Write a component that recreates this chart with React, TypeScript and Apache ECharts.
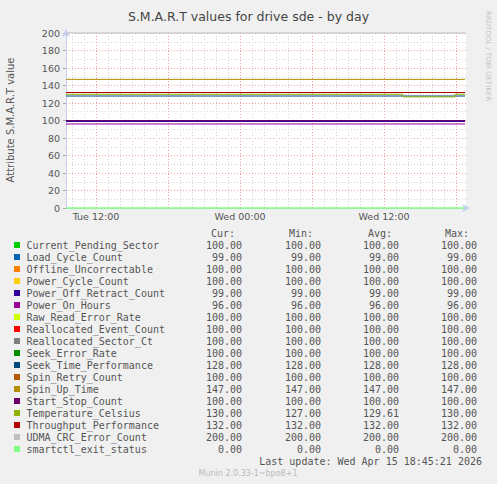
import React, { useEffect, useRef } from "react";
import * as echarts from "echarts";

const TITLE = "S.M.A.R.T values for drive sde - by day";
const Y_AXIS_NAME = "Attribute S.M.A.R.T value";
const WATERMARK = "RRDTOOL / TOBI OETIKER";
const LAST_UPDATE = "Last update: Wed Apr 15 18:45:21 2026";
const VERSION = "Munin 2.0.33-1~bpo8+1";
const COLUMN_HEADERS = ["Cur:", "Min:", "Avg:", "Max:"];

const seriesNames = [
  "Current_Pending_Sector",
  "Load_Cycle_Count",
  "Offline_Uncorrectable",
  "Power_Cycle_Count",
  "Power_Off_Retract_Count",
  "Power_On_Hours",
  "Raw_Read_Error_Rate",
  "Reallocated_Event_Count",
  "Reallocated_Sector_Ct",
  "Seek_Error_Rate",
  "Seek_Time_Performance",
  "Spin_Retry_Count",
  "Spin_Up_Time",
  "Start_Stop_Count",
  "Temperature_Celsius",
  "Throughput_Performance",
  "UDMA_CRC_Error_Count",
  "smartctl_exit_status",
];
const seriesColors = [
  "#00cc00", "#0066b3", "#ff8000", "#ffcc00", "#330099", "#990099",
  "#ccff00", "#ff0000", "#808080", "#008f00", "#00487d", "#b35a00",
  "#b38f00", "#6b006b", "#8fb300", "#b30000", "#bebebe", "#80ff80",
];
const curValues = [100, 99, 100, 100, 99, 96, 100, 100, 100, 100, 128, 100, 147, 100, 130, 132, 200, 0];
const minValues = [100, 99, 100, 100, 99, 96, 100, 100, 100, 100, 128, 100, 147, 100, 127, 132, 200, 0];
const avgValues = [100, 99, 100, 100, 99, 96, 100, 100, 100, 100, 128, 100, 147, 100, 129.61, 132, 200, 0];
const maxValues = [100, 99, 100, 100, 99, 96, 100, 100, 100, 100, 128, 100, 147, 100, 130, 132, 200, 0];

// flat level of each series over the shown period (hours since Tue 00:00)
const levelValues = [100, 99, 100, 100, 99, 96, 100, 100, 100, 100, 128, 100, 147, 100, 130, 132, 200, 0];
const DATA_START = 9.5;
const DATA_END = 42.75;
// Temperature_Celsius is the only series that changes
const TEMP_INDEX = 14;
const tempTimes = [9.5, 37.58, 41.92, 42.75];
const tempLevels = [130, 127, 130, 130];

const X_MIN = 9.5;
const X_MAX = 42.8333;
const hourTicks = [10, 11, 12, 13, 14, 15, 16, 17, 18, 19, 20, 21, 22, 23, 24, 25, 26, 27, 28, 29, 30, 31, 32, 33, 34, 35, 36, 37, 38, 39, 40, 41, 42];
const sixHourTicks = [12, 18, 24, 30, 36, 42];
const labelHours = [12, 24, 36];
const labelTexts = ["Tue 12:00", "Wed 00:00", "Wed 12:00"];

const SANS = "DejaVu Sans";
const MONO = "DejaVu Sans Mono";

export default function App() {
  const ref = useRef<HTMLDivElement>(null);
  useEffect(() => {
    if (!ref.current) return;
    const chart = echarts.init(ref.current, undefined, { renderer: "svg" });

    const series = seriesNames.map((name, i) => {
      const data =
        i === TEMP_INDEX
          ? tempTimes.map((t, k) => [t, tempLevels[k]])
          : [
              [DATA_START, levelValues[i]],
              [DATA_END, levelValues[i]],
            ];
      return {
        name,
        type: "line",
        step: "end",
        symbol: "none",
        clip: false,
        xAxisIndex: 0,
        yAxisIndex: 0,
        lineStyle: { width: i === seriesNames.length - 1 ? 1.5 : 1, color: seriesColors[i] },
        itemStyle: { color: seriesColors[i] },
        data,
      };
    });

    const graphics: any[] = [];
    const rowY0 = 245.5;
    const rowStep = 12;
    const colRight = [242, 321, 399, 477];
    const headRight = [235, 313, 392, 469];
    COLUMN_HEADERS.forEach((h, k) => {
      graphics.push({
        type: "text",
        style: { text: h, x: headRight[k], y: 233.5, align: "right", verticalAlign: "middle", fontFamily: MONO, fontSize: 10, fill: "#555" },
      });
    });
    seriesNames.forEach((name, i) => {
      const y = rowY0 + i * rowStep;
      graphics.push({ type: "rect", shape: { x: 14, y: y - 3.5, width: 6, height: 6 }, style: { fill: seriesColors[i] } });
      graphics.push({
        type: "text",
        style: { text: name, x: 26.5, y, align: "left", verticalAlign: "middle", fontFamily: MONO, fontSize: 10, fill: "#555" },
      });
      [curValues, minValues, avgValues, maxValues].forEach((arr, k) => {
        graphics.push({
          type: "text",
          style: { text: arr[i].toFixed(2), x: colRight[k], y, align: "right", verticalAlign: "middle", fontFamily: MONO, fontSize: 10, fill: "#555" },
        });
      });
    });
    graphics.push({
      type: "text",
      style: { text: LAST_UPDATE, x: 482, y: 461, align: "right", verticalAlign: "middle", fontFamily: MONO, fontSize: 10, fill: "#555" },
    });
    graphics.push({
      type: "text",
      style: { text: VERSION, x: 248, y: 473.5, align: "center", verticalAlign: "middle", fontFamily: SANS, fontSize: 8, fill: "#bbb" },
    });
    graphics.push({
      type: "text",
      x: 10,
      y: 120,
      rotation: Math.PI / 2,
      style: { text: Y_AXIS_NAME, x: 0, y: 0, align: "center", verticalAlign: "middle", fontFamily: SANS, fontSize: 10, fill: "#555" },
    });
    graphics.push({
      type: "text",
      x: 488,
      y: 56,
      rotation: -Math.PI / 2,
      style: { text: WATERMARK, x: 0, y: 0, align: "center", verticalAlign: "middle", fontFamily: SANS, fontSize: 7, fill: "#c4c4c4" },
    });

    const axisColor = "#c8ccf4";
    const option: any = {
      animation: false,
      backgroundColor: "#f0f0f0",
      title: {
        text: TITLE,
        left: "center",
        top: 5,
        textStyle: { fontFamily: SANS, fontSize: 12.5, fontWeight: "normal", color: "#444" },
      },
      grid: { left: 66, top: 33, width: 400, height: 175, show: true, backgroundColor: "#ffffff", borderWidth: 0 },
      xAxis: [
        {
          type: "value",
          min: X_MIN,
          max: X_MAX,
          axisLine: { show: true, lineStyle: { color: axisColor, width: 1 }, symbol: ["none", "arrow"], symbolSize: [6, 8], symbolOffset: [0, 4] },
          axisTick: { show: false, customValues: hourTicks },
          axisLabel: {
            show: true,
            customValues: labelHours,
            margin: 3,
            fontFamily: SANS,
            fontSize: 9.5,
            color: "#555",
            formatter: (v: number) => labelTexts[labelHours.indexOf(Math.round(v))] ?? "",
          },
          splitLine: { show: true, lineStyle: { color: "#d4d4d4", type: [1, 2], width: 1 } },
        },
        {
          type: "value",
          min: X_MIN,
          max: X_MAX,
          position: "bottom",
          axisLine: { show: false },
          axisTick: { show: false, customValues: sixHourTicks },
          axisLabel: { show: false },
          splitLine: { show: true, lineStyle: { color: "#f4a0a0", type: [1, 2], width: 1 } },
        },
      ],
      yAxis: {
        type: "value",
        min: 0,
        max: 200,
        interval: 20,
        axisLine: { show: true, lineStyle: { color: axisColor, width: 1 }, symbol: ["none", "arrow"], symbolSize: [6, 8], symbolOffset: [0, 4] },
        axisTick: { show: true, length: 3, lineStyle: { color: "#aaa" } },
        axisLabel: { margin: 6, fontFamily: SANS, fontSize: 9.5, color: "#555" },
        splitLine: { show: true, lineStyle: { color: "#f4a0a0", type: [1, 2], width: 1 } },
        minorTick: { show: false, splitNumber: 2 },
        minorSplitLine: { show: true, lineStyle: { color: "#d4d4d4", type: [1, 2], width: 1 } },
      },
      series,
      graphic: graphics,
    };
    chart.setOption(option);
    return () => chart.dispose();
  }, []);
  return <div ref={ref} style={{ position: "fixed", left: 0, top: 0, width: 497, height: 484 }} />;
}
